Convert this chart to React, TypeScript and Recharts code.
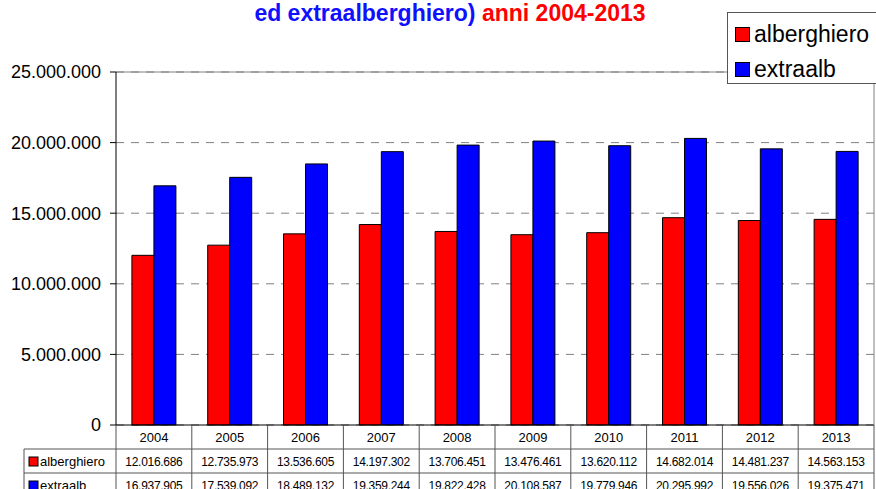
import React from "react";
import {
  BarChart,
  Bar,
  XAxis,
  YAxis,
  CartesianGrid,
  ReferenceLine,
} from "recharts";

const years = ["2004", "2005", "2006", "2007", "2008", "2009", "2010", "2011", "2012", "2013"];
const alberghiero = [
  12016686, 12735973, 13536605, 14197302, 13706451, 13476461, 13620112, 14682014, 14481237,
  14563153,
];
const extraalb = [
  16937905, 17539092, 18489132, 19359244, 19822428, 20108587, 19779946, 20295992, 19556026,
  19375471,
];
const yTicks = [0, 5000000, 10000000, 15000000, 20000000, 25000000];

const data = years.map((year, i) => ({
  year,
  alberghiero: alberghiero[i],
  extraalb: extraalb[i],
}));

const FONT = "'Liberation Sans', Arial, sans-serif";
const W = 876;
const H = 489;
const PLOT_LEFT = 116;
const PLOT_RIGHT = 874;
const PLOT_BOTTOM = 425;
const CELL_W = (PLOT_RIGHT - PLOT_LEFT) / years.length;
const TABLE_LEFT = 24;
const ROW1 = 449;
const ROW2 = 473;
const LINE = "#555";

const fmt = (v: number) => String(v).replace(/\B(?=(\d{3})+(?!\d))/g, ".");

// x axis tick draws the year row plus the data table column under it
function TableTick(props: any) {
  const { x, payload, index } = props;
  const i = index as number;
  const l = x - CELL_W / 2;
  const r = x + CELL_W / 2;
  return (
    <g fontFamily={FONT}>
      {i === 0 && (
        <g>
          <line x1={l} y1={PLOT_BOTTOM} x2={l} y2={H} stroke={LINE} />
          <line x1={TABLE_LEFT} y1={ROW1} x2={l} y2={ROW1} stroke={LINE} />
          <line x1={TABLE_LEFT} y1={ROW2} x2={l} y2={ROW2} stroke={LINE} />
          <line x1={TABLE_LEFT} y1={ROW1} x2={TABLE_LEFT} y2={H} stroke={LINE} />
          <rect x={29} y={457} width={9} height={9} fill="#ff0000" stroke="#000" />
          <text x={40} y={466} fontSize={13} fill="#000">alberghiero</text>
          <rect x={29} y={481} width={9} height={9} fill="#0000ff" stroke="#000" />
          <text x={40} y={490} fontSize={13} fill="#000">extraalb</text>
        </g>
      )}
      <line x1={r} y1={PLOT_BOTTOM} x2={r} y2={H} stroke={LINE} />
      <line x1={l} y1={ROW1} x2={r} y2={ROW1} stroke={LINE} />
      <line x1={l} y1={ROW2} x2={r} y2={ROW2} stroke={LINE} />
      <text x={x} y={442} textAnchor="middle" fontSize={13} fill="#000">
        {payload.value}
      </text>
      <text x={x} y={466} textAnchor="middle" fontSize={12} letterSpacing={-0.3} fill="#000">
        {fmt(alberghiero[i])}
      </text>
      <text x={x} y={490} textAnchor="middle" fontSize={12} letterSpacing={-0.3} fill="#000">
        {fmt(extraalb[i])}
      </text>
    </g>
  );
}

export default function App() {
  return (
    <div
      style={{
        position: "absolute",
        left: 0,
        top: 0,
        width: W,
        height: H,
        overflow: "hidden",
        background: "#fff",
        fontFamily: FONT,
      }}
    >
      <div
        style={{
          position: "absolute",
          left: 0,
          width: 900,
          top: 2,
          textAlign: "center",
          fontSize: 23,
          lineHeight: "23px",
          fontWeight: "bold",
          whiteSpace: "nowrap",
        }}
      >
        <span style={{ color: "#1010ff" }}>ed extraalberghiero)</span>{" "}
        <span style={{ color: "#ff0000" }}>anni 2004-2013</span>
      </div>

      <div style={{ position: "absolute", left: 0, top: 0 }}>
        <BarChart
          width={W}
          height={H}
          data={data}
          margin={{ top: 72, right: 0, left: 16, bottom: 0 }}
          barCategoryGap="21%"
          barGap={0}
        >
          <CartesianGrid
            yAxisId="l"
            vertical={false}
            stroke="#808080"
            strokeDasharray="8 7"
          />
          <XAxis
            dataKey="year"
            height={64}
            interval={0}
            tickLine={false}
            axisLine={{ stroke: "#000" }}
            tick={<TableTick />}
          />
          <YAxis
            yAxisId="l"
            width={100}
            domain={[0, 25000000]}
            ticks={yTicks}
            tickFormatter={fmt}
            tickMargin={9}
            axisLine={{ stroke: "#000" }}
            tickLine={{ stroke: "#000" }}
            tick={{ fill: "#000", fontSize: 18, fontFamily: FONT }}
          />
          <YAxis
            yAxisId="r"
            orientation="right"
            width={2}
            tick={false}
            tickLine={false}
            axisLine={{ stroke: "#808080" }}
          />
          <ReferenceLine yAxisId="l" y={25000000} stroke="#808080" />
          <Bar
            yAxisId="l"
            dataKey="alberghiero"
            fill="#ff0000"
            stroke="#000"
            strokeWidth={1}
            isAnimationActive={false}
          />
          <Bar
            yAxisId="l"
            dataKey="extraalb"
            fill="#0000ff"
            stroke="#000"
            strokeWidth={1}
            isAnimationActive={false}
          />
        </BarChart>
      </div>

      <div
        style={{
          position: "absolute",
          left: 727,
          top: 12,
          width: 170,
          height: 70,
          border: "1px solid #555",
          background: "#fff",
          fontSize: 23,
        }}
      >
        <div style={{ position: "absolute", left: 7, top: 9, display: "flex", alignItems: "center", height: 24 }}>
          <span style={{ display: "inline-block", width: 13, height: 13, background: "#ff0000", border: "1px solid #000", marginRight: 4 }} />
          <span>alberghiero</span>
        </div>
        <div style={{ position: "absolute", left: 7, top: 44, display: "flex", alignItems: "center", height: 24 }}>
          <span style={{ display: "inline-block", width: 13, height: 13, background: "#0000ff", border: "1px solid #000", marginRight: 4 }} />
          <span>extraalb</span>
        </div>
      </div>
    </div>
  );
}
